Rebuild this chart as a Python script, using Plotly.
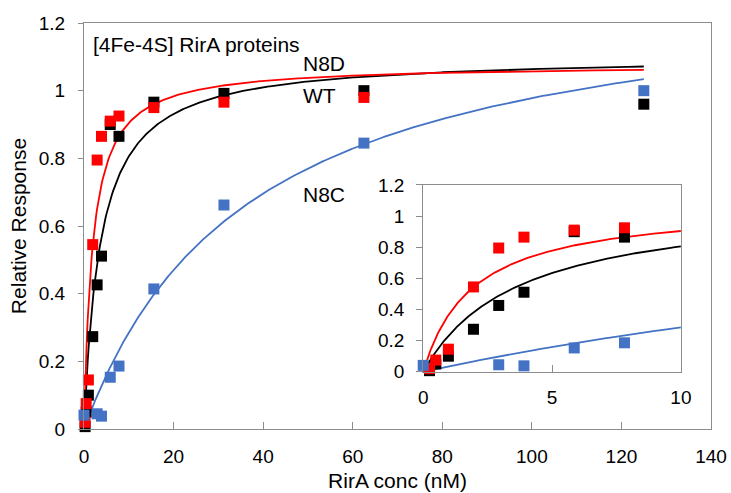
import numpy as np
import plotly.graph_objects as go

# RirA concentrations (nM) and relative responses
conc_wt = [0.244, 0.488, 0.977, 1.95, 2.93, 3.91, 5.86, 7.81, 15.6, 31.25, 62.5, 125]
resp_wt = [0.007, 0.05, 0.10, 0.273, 0.426, 0.511, 0.90, 0.865, 0.966, 0.992, 1.0, 0.96]

conc_n8d = [0.244, 0.488, 0.977, 1.95, 2.93, 3.91, 5.86, 7.81, 15.6, 31.25, 62.5]
resp_n8d = [0.02, 0.075, 0.145, 0.545, 0.795, 0.865, 0.91, 0.925, 0.95, 0.966, 0.98]

conc_n8c = [0.0, 2.93, 3.91, 5.86, 7.81, 15.6, 31.25, 62.5, 125]
resp_n8c = [0.041, 0.045, 0.038, 0.153, 0.186, 0.414, 0.662, 0.845, 1.0]

# Fitted single-site binding parameters: y = Bmax * x / (Kd + x)
fit_wt = {"Bmax": 1.103, "Kd": 3.69}
fit_n8d = {"Bmax": 1.078, "Kd": 1.92}
fit_n8c = {"Bmax": 1.34, "Kd": 37.0}

RED = "#FF0000"
BLACK = "#000000"
BLUE = "#4472C4"
FRAME = "#8C8C8C"
FONT = "Liberation Sans, Arial, Helvetica, sans-serif"


def binding(p, x):
    return p["Bmax"] * x / (p["Kd"] + x)


series = [
    ("WT", conc_wt, resp_wt, fit_wt, BLACK),
    ("N8D", conc_n8d, resp_n8d, fit_n8d, RED),
    ("N8C", conc_n8c, resp_n8c, fit_n8c, BLUE),
]

fig = go.Figure()

# main panel: fitted curves then points
x_main = np.linspace(0, 125, 600)
x_inset = np.linspace(0, 10, 300)
for name, xs, ys, p, col in series:
    fig.add_trace(go.Scatter(x=x_main, y=binding(p, x_main), mode="lines",
                             line=dict(color=col, width=1.8), showlegend=False,
                             xaxis="x", yaxis="y", hoverinfo="skip"))
for name, xs, ys, p, col in series:
    fig.add_trace(go.Scatter(x=xs, y=ys, mode="markers", name=name,
                             marker=dict(symbol="square", size=11, color=col),
                             cliponaxis=False, showlegend=False,
                             xaxis="x", yaxis="y"))

# inset panel: low-concentration region
for name, xs, ys, p, col in series:
    fig.add_trace(go.Scatter(x=x_inset, y=binding(p, x_inset), mode="lines",
                             line=dict(color=col, width=1.8), showlegend=False,
                             xaxis="x2", yaxis="y2", hoverinfo="skip"))
for name, xs, ys, p, col in series:
    xi = [a for a in xs if a <= 10]
    yi = [b for a, b in zip(xs, ys) if a <= 10]
    fig.add_trace(go.Scatter(x=xi, y=yi, mode="markers", name=name,
                             marker=dict(symbol="square", size=11, color=col),
                             cliponaxis=False, showlegend=False,
                             xaxis="x2", yaxis="y2"))

axis_common = dict(showgrid=False, zeroline=False, showline=True, linecolor=FRAME,
                   linewidth=1, mirror=True, tickcolor=FRAME, tickwidth=1,
                   automargin=False,
                   tickfont=dict(family=FONT, size=19, color="#000000"))

fig.update_layout(
    width=731, height=493,
    margin=dict(l=84, r=20, t=23, b=64),
    paper_bgcolor="white", plot_bgcolor="white",
    font=dict(family=FONT, size=19, color="#000000"),
    xaxis=dict(range=[0, 140], dtick=20, ticks="inside", ticklen=7,
               ticklabelstandoff=10,
               title=dict(text="RirA conc (nM)", font=dict(family=FONT, size=21), standoff=7),
               **axis_common),
    yaxis=dict(range=[0, 1.2], dtick=0.2, ticks="outside", ticklen=5,
               ticklabelstandoff=9,
               title=dict(text="Relative Response", font=dict(family=FONT, size=21), standoff=6),
               **axis_common),
    xaxis2=dict(domain=[0.541, 0.952], anchor="y2", range=[0, 10], dtick=5,
                ticks="inside", ticklen=7, ticklabelstandoff=8, **axis_common),
    yaxis2=dict(domain=[0.141, 0.601], anchor="x2", range=[0, 1.2], dtick=0.2,
                ticks="outside", ticklen=6, ticklabelstandoff=8, **axis_common),
    annotations=[
        dict(text="[4Fe-4S] RirA proteins", x=0.011, y=1.135, xref="paper", yref="y",
             xanchor="left", yanchor="middle", showarrow=False,
             font=dict(family=FONT, size=21)),
        dict(text="N8D", x=48.4, y=1.079, xref="x", yref="y", xanchor="left",
             yanchor="middle", showarrow=False, font=dict(family=FONT, size=21)),
        dict(text="WT", x=48.4, y=0.987, xref="x", yref="y", xanchor="left",
             yanchor="middle", showarrow=False, font=dict(family=FONT, size=21)),
        dict(text="N8C", x=48.4, y=0.692, xref="x", yref="y", xanchor="left",
             yanchor="middle", showarrow=False, font=dict(family=FONT, size=21)),
    ],
)

fig.write_html("out.html")
